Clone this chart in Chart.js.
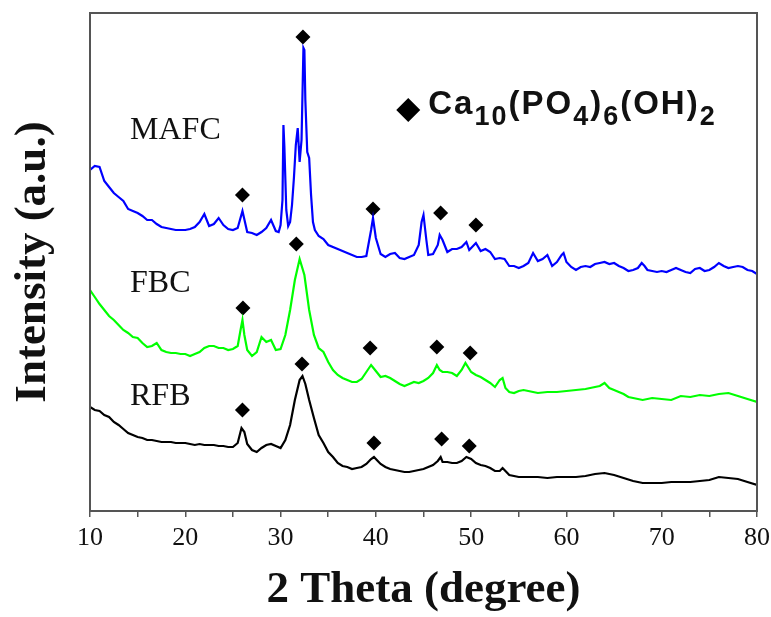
<!DOCTYPE html>
<html>
<head>
<meta charset="utf-8">
<script src="https://cdn.jsdelivr.net/npm/chart.js@4.4.1/dist/chart.umd.min.js"></script>
<style>
  html, body { margin: 0; padding: 0; background: #fff; }
  #wrap { width: 771px; height: 617px; }
</style>
</head>
<body>
<div id="wrap"><canvas id="xrd" width="771" height="617"></canvas></div>
<script>
// 2 theta (degree) and intensity (a.u.)
const mafcTheta = [10,10.5,11,11.5,12,12.5,13,13.5,14,14.5,15,15.5,16,16.5,17,17.5,18,18.5,19,19.5,
  20,20.5,21,21.5,22,22.5,23,23.5,24,24.5,25,25.5,26,26.5,27,27.5,28,28.5,29,29.5,
  29.8,30,30.2,30.3,30.4,30.6,30.8,31,31.2,31.4,31.6,31.8,32,32.2,32.4,32.5,32.6,32.8,33,33.2,33.4,33.6,
  34,34.5,35,36,37,38,38.5,39,39.5,39.7,40,40.5,41,41.5,42,42.5,43,43.5,44,44.5,
  44.8,45,45.3,45.5,46,46.5,46.7,47,47.5,48,48.5,49,49.5,49.8,
  50,50.5,51,51.5,52,52.5,53,53.5,54,54.5,55,55.5,56,56.5,57,57.5,58,58.5,59,59.5,59.7,60,
  60.5,61,61.5,62,62.5,63,63.5,64,64.5,65,65.5,66,66.5,67,67.5,67.9,68.2,
  68.5,69,69.5,70,70.5,71,71.5,72,72.5,73,73.5,74,74.5,75,75.5,76,76.5,77,77.5,78,78.5,79,79.5,80];
const mafcI = [341,345,344,330,324,318,314,310,302,300,298,295,291,291,287,284,283,282,281,281,
  281,282,284,289,297,285,287,293,286,282,281,283,300,279,278,276,279,283,291,280,
  279,286,311,386,364,301,285,289,306,333,366,383,349,371,463,461,411,359,353,316,289,281,
  275,272,266,262,258,254,254,255,281,293,273,257,254,257,258,253,252,254,256,266,
  289,296,271,256,257,266,276,271,259,262,262,264,269,261,
  263,268,260,262,259,252,253,252,245,245,243,245,248,258,250,252,256,245,249,256,258,249,
  244,241,244,245,244,247,248,249,247,248,245,243,240,241,243,248,245,
  241,240,239,240,239,241,243,241,239,238,242,243,240,241,244,248,245,243,244,245,244,241,240,237];

const fbcTheta = [10,10.5,11,11.5,12,12.5,13,13.5,14,14.5,15,15.5,16,16.5,17,17.5,18,18.5,19,19.5,
  20,20.5,21,21.5,22,22.5,23,23.5,24,24.5,25,25.5,25.8,26,26.2,
  26.5,27,27.5,28,28.5,29,29.5,30,30.5,31,31.5,32,32.5,33,33.5,34,34.5,35,35.5,36,
  36.5,37,37.5,38,38.5,39,39.5,40,40.5,41,41.5,42,42.5,43,43.5,44,44.5,45,45.5,46,
  46.4,46.7,47,47.5,48,48.5,49,49.4,49.8,50,50.5,51,51.5,52,52.5,53,53.3,53.6,
  54,54.5,55,55.5,56,56.5,57,58,59,60,61,62,63,63.5,64,64.5,65,65.5,66,66.5,67,
  68,69,70,71,72,73,74,75,76,77,78,79,80];
const fbcI = [221,214,207,201,195,191,186,181,178,174,173,168,164,165,168,161,159,158,158,157,
  157,155,157,159,163,165,165,163,163,161,162,165,181,191,176,
  161,155,159,174,169,171,161,162,176,201,231,252,236,201,176,163,159,149,141,136,
  133,131,129,129,132,139,146,140,134,135,133,130,127,125,127,129,128,130,133,138,
  146,141,139,139,138,135,141,148,142,139,136,134,131,128,124,131,133,123,
  119,118,120,121,120,119,118,119,119,120,121,122,124,125,128,123,121,119,117,114,113,
  111,113,112,111,115,114,116,115,117,118,115,112,109];

const rfbTheta = [10,10.5,11,11.5,12,12.5,13,13.5,14,14.5,15,15.5,16,16.5,17,17.5,18,18.5,19,19.5,
  20,20.5,21,21.5,22,22.5,23,23.5,24,24.5,25,25.5,25.9,26.2,
  26.5,27,27.5,28,28.5,29,29.5,30,30.5,31,31.5,32,32.3,32.6,
  33,33.5,34,34.5,35,35.5,36,36.5,37,37.5,38,38.5,39,39.5,39.8,40.2,
  40.5,41,41.5,42,42.5,43,43.5,44,44.5,45,45.5,46,46.5,46.8,
  47,47.5,48,48.5,49,49.5,50,50.5,51,51.5,52,52.5,53,53.3,53.7,
  54,55,56,57,58,59,60,61,62,63,64,65,66,67,68,69,70,71,72,73,74,75,76,77,78,79,80];
const rfbI = [104,101,100,96,94,89,86,82,78,76,74,73,71,71,70,69,69,69,68,68,
  68,67,66,67,66,66,66,65,65,64,64,68,83,79,
  67,61,59,63,66,67,65,63,71,86,111,131,135,127,
  111,93,76,68,59,54,48,45,44,42,43,44,47,52,54,50,
  47,44,42,41,40,39,39,40,41,42,44,46,50,54,
  49,49,48,48,50,54,52,48,46,45,43,40,40,43,39,
  36,34,34,34,33,34,34,34,35,37,38,36,33,30,28,28,28,29,29,29,30,31,34,33,32,29,26];

// Ca10(PO4)6(OH)2 reflections marked with diamonds
const peakTheta = [32.35, 26.0, 39.7, 46.8, 50.5,  26.05, 31.65, 39.4, 46.4, 49.9,  26.0, 32.25, 39.8, 46.9, 49.8];
const peakI     = [474, 316, 302, 298, 286,  203, 267, 163, 164, 158,  101, 147, 68, 72, 65];

const sampleNames = ['MAFC', 'FBC', 'RFB'];
const nameTheta = [14.2, 14.2, 14.2];
const nameI = [372, 219, 106];

const legendTheta = 43.4, legendI = 401;
const legendParts = [['Ca', 0], ['10', 1], ['(PO', 0], ['4', 1], [')', 0], ['6', 1], ['(OH)', 0], ['2', 1]];

const xy = (xs, ys) => xs.map((v, i) => ({x: v, y: ys[i]}));

const textPlugin = {
  id: 'textPlugin',
  afterDraw(chart) {
    const {ctx, chartArea, scales: {x, y}} = chart;
    ctx.save();
    // frame
    ctx.strokeStyle = '#555';
    ctx.lineWidth = 2;
    ctx.strokeRect(chartArea.left, chartArea.top, chartArea.right - chartArea.left, chartArea.bottom - chartArea.top);

    ctx.fillStyle = '#111';
    ctx.textBaseline = 'alphabetic';
    ctx.font = '32px "Liberation Serif"';
    sampleNames.forEach((n, i) => {
      ctx.fillText(n, x.getPixelForValue(nameTheta[i]), y.getPixelForValue(nameI[i]));
    });

    // legend text with subscripts
    let px = x.getPixelForValue(legendTheta) + 20;
    const py = y.getPixelForValue(legendI) + 4;
    ctx.letterSpacing = '2px';
    legendParts.forEach(([t, sub]) => {
      ctx.font = sub ? 'bold 27px "Liberation Sans"' : 'bold 33px "Liberation Sans"';
      ctx.fillText(t, px, py + (sub ? 11 : 0));
      px += ctx.measureText(t).width;
    });
    ctx.restore();
  }
};

new Chart(document.getElementById('xrd'), {
  type: 'line',
  data: {
    datasets: [
      { label: 'MAFC', data: xy(mafcTheta, mafcI), borderColor: '#0000ff', borderWidth: 2.2, pointRadius: 0, tension: 0 },
      { label: 'FBC', data: xy(fbcTheta, fbcI), borderColor: '#00ff00', borderWidth: 2.2, pointRadius: 0, tension: 0 },
      { label: 'RFB', data: xy(rfbTheta, rfbI), borderColor: '#000000', borderWidth: 2.2, pointRadius: 0, tension: 0 },
      { label: 'peaks', data: xy(peakTheta, peakI), showLine: false, pointStyle: 'rectRot',
        pointRadius: 7.5, backgroundColor: '#000', borderColor: '#000', borderWidth: 0 },
      { label: 'legend', data: [{x: legendTheta, y: legendI}], showLine: false, pointStyle: 'rectRot',
        pointRadius: 12, backgroundColor: '#000', borderColor: '#000', borderWidth: 0 }
    ]
  },
  options: {
    responsive: false,
    animation: false,
    layout: { padding: { left: 0, right: 14, top: 13, bottom: 0 } },
    plugins: { legend: { display: false }, tooltip: { enabled: false } },
    scales: {
      x: {
        type: 'linear',
        min: 10,
        max: 80,
        afterFit(scale) {
          scale.height = 106;
          scale.paddingLeft = 0;
          scale.paddingRight = 0;
        },
        ticks: {
          stepSize: 5,
          autoSkip: false,
          maxRotation: 0,
          padding: 6,
          color: '#111',
          font: { family: 'Liberation Serif', size: 26 },
          callback: v => (v % 10 === 0 ? v : '')
        },
        grid: { drawOnChartArea: false, tickLength: 6, color: '#555', lineWidth: 1.5 },
        border: { color: '#555', width: 2 },
        title: {
          display: true,
          text: '2 Theta (degree)',
          color: '#111',
          font: { family: 'Liberation Serif', size: 45, weight: 'bold' },
          padding: { top: 0, bottom: 0 }
        }
      },
      y: {
        min: 0,
        max: 498,
        afterFit(scale) { scale.width = 90; },
        ticks: { display: false },
        grid: { display: false },
        border: { display: false },
        title: {
          display: true,
          text: 'Intensity (a.u.)',
          color: '#111',
          font: { family: 'Liberation Serif', size: 45, weight: 'bold' },
          padding: { top: 6, bottom: 0 }
        }
      }
    }
  },
  plugins: [textPlugin]
});
</script>
</body>
</html>
